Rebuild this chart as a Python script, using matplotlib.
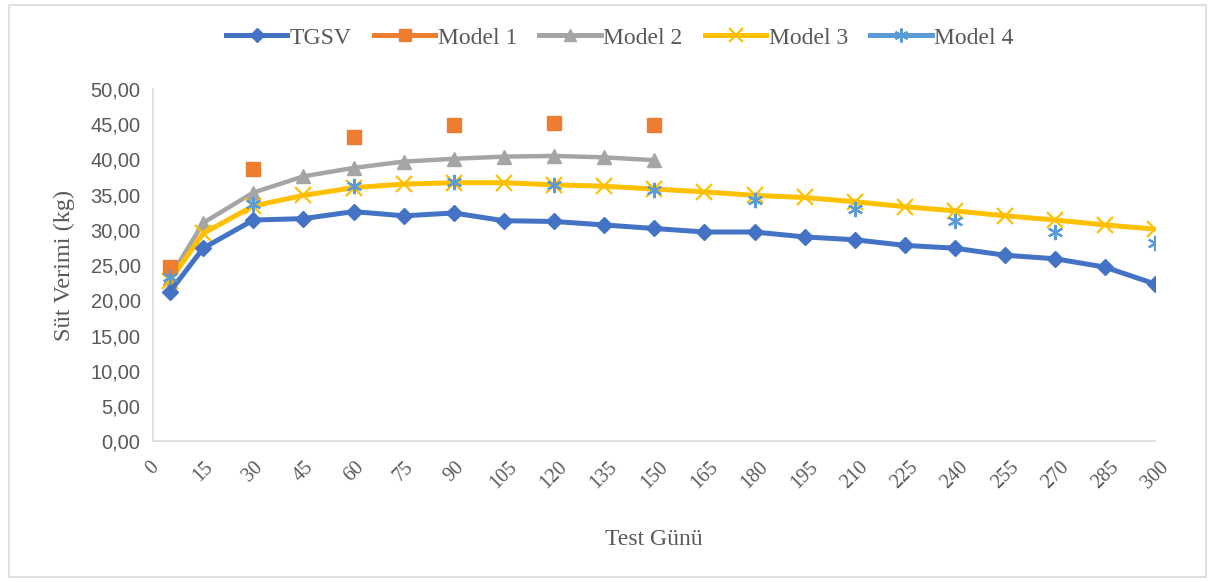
import numpy as np
import matplotlib.pyplot as plt
from matplotlib.lines import Line2D
from matplotlib.patches import Rectangle
from matplotlib.ticker import FuncFormatter

# test days
days = [5, 15, 30, 45, 60, 75, 90, 105, 120, 135, 150, 165, 180, 195, 210,
        225, 240, 255, 270, 285, 300]
tgsv = [21.2, 27.4, 31.4, 31.6, 32.6, 32.0, 32.4, 31.3, 31.2, 30.7, 30.2,
        29.7, 29.7, 29.0, 28.6, 27.8, 27.4, 26.4, 25.9, 24.7, 22.3]

m1_days = [5, 30, 60, 90, 120, 150]
model1 = [24.8, 38.7, 43.2, 44.9, 45.2, 44.9]

m2_days = [5, 15, 30, 45, 60, 75, 90, 105, 120, 135, 150]
model2 = [23.2, 31.0, 35.3, 37.6, 38.8, 39.7, 40.1, 40.4, 40.5, 40.3, 39.9]

model3 = [22.8, 29.5, 33.4, 34.9, 36.0, 36.5, 36.7, 36.7, 36.4, 36.2, 35.8,
          35.4, 34.9, 34.6, 34.0, 33.3, 32.7, 32.0, 31.4, 30.7, 30.1]

m4_days = [5, 30, 60, 90, 120, 150, 180, 210, 240, 270, 300]
model4 = [23.3, 33.7, 36.2, 36.8, 36.4, 35.6, 34.2, 32.9, 31.2, 29.7, 28.1]

c_tgsv = '#4472C4'
c_m1 = '#ED7D31'
c_m2 = '#A5A5A5'
c_m3 = '#FFC000'
c_m4 = '#5B9BD5'
star = (6, 2, 0)

fig = plt.figure(figsize=(12.15, 5.82), dpi=100)
ax = fig.add_axes([0.126, 0.242, 0.825, 0.605])

ax.plot(m2_days, model2, color=c_m2, lw=3.2, marker='^', ms=10, zorder=3)
ax.plot(days, model3, color=c_m3, lw=3.6, marker='x', ms=11, mew=1.6, zorder=4)
ax.plot(days, tgsv, color=c_tgsv, lw=3.6, marker='D', ms=8, zorder=5)
ax.plot(m1_days, model1, ls='none', color=c_m1, marker='s', ms=10, zorder=6)
ax.plot(m4_days, model4, ls='none', color=c_m4, marker=star, ms=11, mew=1.6, zorder=7)

ax.set_xlim(0, 300)
ax.set_ylim(0, 50)
ax.set_xticks(np.arange(0, 301, 15))
ax.set_yticks(np.arange(0, 51, 5))
ax.yaxis.set_major_formatter(FuncFormatter(lambda v, p: f'{v:.2f}'.replace('.', ',')))
ax.tick_params(length=0, colors='#595959')
ax.tick_params(axis='y', labelsize=14.5, pad=9)
ax.tick_params(axis='x', labelsize=14.5, pad=12)
for lab in ax.get_yticklabels():
    lab.set_family('Liberation Sans')
for lab in ax.get_xticklabels():
    lab.set_family('Liberation Serif')
    lab.set_rotation(45)
    lab.set_ha('center')
    lab.set_va('top')

for s in ['top', 'right']:
    ax.spines[s].set_visible(False)
for s in ['left', 'bottom']:
    ax.spines[s].set_color('#D9D9D9')
    ax.spines[s].set_linewidth(1.2)

ax.set_xlabel('Test Günü', family='Liberation Serif', fontsize=17, color='#595959', labelpad=26)
ax.set_ylabel('Süt Verimi (kg)', family='Liberation Serif', fontsize=17.5, color='#595959')
ax.yaxis.set_label_coords(-0.078, 0.5)

handles = [
    Line2D([], [], color=c_tgsv, lw=3.6, marker='D', ms=7),
    Line2D([], [], color=c_m1, lw=3.6, marker='s', ms=9),
    Line2D([], [], color=c_m2, lw=3.6, marker='^', ms=9),
    Line2D([], [], color=c_m3, lw=3.6, marker='x', ms=10, mew=1.6),
    Line2D([], [], color=c_m4, lw=3.6, marker=star, ms=10, mew=1.6),
]
labels = ['TGSV', 'Model 1', 'Model 2', 'Model 3', 'Model 4']
fig.legend(handles, labels, loc='center', bbox_to_anchor=(0.51, 0.935), ncol=5,
           frameon=False, prop={'family': 'Liberation Serif', 'size': 17},
           handlelength=2.6, handletextpad=0.1, columnspacing=0.95, labelcolor='#595959')

fig.patches.append(Rectangle((0.007, 0.009), 0.986, 0.982, transform=fig.transFigure,
                             fill=False, edgecolor='#D9D9D9', lw=1.2))

fig.savefig('out.png', dpi=100)
